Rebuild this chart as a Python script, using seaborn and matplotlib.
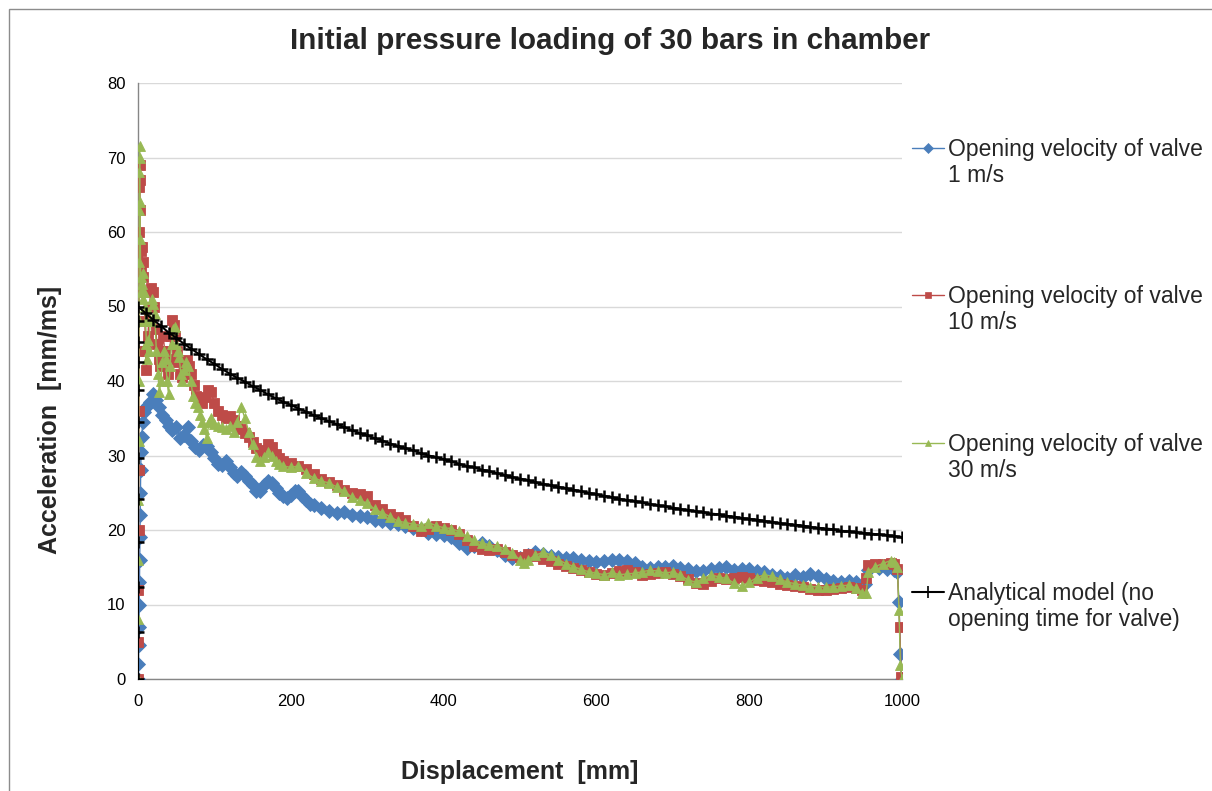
import numpy as np
import matplotlib
matplotlib.use("Agg")
import matplotlib.pyplot as plt
from matplotlib.lines import Line2D
from matplotlib.patches import Rectangle
import seaborn as sns

# Data (displacement in mm, acceleration in mm/ms)

# Opening velocity of valve 1 m/s
x_1ms = [0, 0.5, 1, 1.3, 1.6, 1.9, 2.2, 2.5, 2.8, 3.1, 3.5, 4, 5, 6, 8, 10, 13, 16, 20, 24,
         28, 32, 36, 40, 45, 50, 55, 60, 65, 70, 75, 80, 85, 90, 95, 100, 105, 110, 115, 120,
         125, 130, 135, 140, 145, 150, 155, 160, 165, 170, 175, 180, 185, 190, 195, 200, 205, 210, 215, 220,
         225, 230, 240, 250, 260, 270, 280, 290, 300, 310, 320, 330, 340, 350, 360, 370, 380, 390, 400, 410,
         420, 430, 440, 450, 460, 470, 480, 490, 500, 510, 520, 530, 540, 550, 560, 570, 580, 590, 600, 610,
         620, 630, 640, 650, 660, 670, 680, 690, 700, 710, 720, 730, 740, 750, 760, 770, 780, 790, 800, 810,
         820, 830, 840, 850, 860, 870, 880, 890, 900, 910, 920, 930, 940, 948, 952, 955, 960, 970, 980, 990,
         994, 996, 998, 1000]
y_1ms = [0, 2, 4.5, 7, 10, 13, 16, 19, 22, 25, 28, 30.5, 32.5, 34.5, 35.8, 36.5, 36.8, 37.2, 38.3, 37.5,
         36.5, 35.5, 34.8, 34, 33.4, 33.8, 32.4, 32.8, 33.8, 32, 31.2, 30.8, 31.4, 31.3, 30.5, 29.6, 28.9, 28.7, 29.2, 28.5,
         27.6, 27.2, 27.8, 27.3, 26.6, 26.0, 25.3, 25.2, 26.1, 26.6, 26.3, 25.6, 25.0, 24.5, 24.3, 24.7, 25.3, 25.2, 24.6, 24.0,
         23.5, 23.3, 23.0, 22.6, 22.3, 22.4, 22.0, 21.9, 21.8, 21.4, 21.2, 21.0, 20.8, 20.6, 20.3, 20.1, 19.6, 19.4, 19.3, 19.1,
         18.3, 17.6, 17.8, 18.3, 17.8, 17.3, 16.6, 16.2, 16.3, 16.6, 17.0, 16.8, 16.5, 16.4, 16.3, 16.2, 16.0, 15.9, 15.7, 15.8,
         16.0, 16.0, 15.9, 15.6, 15.1, 14.9, 15.0, 15.0, 15.2, 14.9, 14.8, 14.5, 14.5, 14.7, 14.9, 15.0, 14.6, 14.8, 14.8, 14.5,
         14.3, 14.0, 13.8, 13.6, 13.9, 13.7, 14.1, 13.8, 13.4, 13.1, 13.0, 13.1, 13.0, 12.6, 12.8, 14.6, 15.0, 14.9, 14.7, 14.6,
         14.4, 10.4, 3.4, 0]

# Opening velocity of valve 10 m/s
x_10ms = [0, 0.3, 0.5, 0.7, 0.9, 1.1, 1.3, 1.5, 1.7, 1.9, 2.1, 2.4, 2.7, 3, 3.5, 4, 5, 6, 7, 8,
          9, 10, 11, 13, 15, 17, 19, 21, 23, 25, 27, 29, 31, 33, 35, 37, 39, 41, 43, 45,
          47, 49, 51, 53, 55, 58, 61, 64, 67, 70, 73, 76, 80, 84, 88, 92, 96, 100, 105, 110,
          115, 120, 125, 130, 135, 140, 145, 150, 155, 160, 165, 170, 175, 180, 185, 190, 200, 210, 220, 230,
          240, 250, 260, 270, 280, 290, 300, 310, 320, 330, 340, 350, 360, 370, 380, 390, 400, 410, 420, 430,
          440, 450, 460, 470, 480, 490, 500, 510, 520, 530, 540, 550, 560, 570, 580, 590, 600, 610, 620, 630,
          640, 650, 660, 670, 680, 690, 700, 710, 720, 730, 740, 750, 760, 770, 780, 790, 800, 810, 820, 830,
          840, 850, 860, 870, 880, 890, 900, 910, 920, 930, 940, 948, 953, 956, 965, 975, 985, 990, 994, 997,
          999]
y_10ms = [0, 5, 12, 20, 28, 36, 44, 52, 60, 66, 69, 67, 63, 58, 55, 57.5, 58, 56, 54, 52,
          48, 44, 41.5, 46, 50, 52.5, 52, 50, 47, 45, 43, 42, 44, 46, 44, 42, 41, 43, 46, 48.2,
          47.5, 46, 44, 42.5, 41, 40.5, 41.5, 42.8, 42, 41, 39.5, 38, 37.5, 37, 37.8, 38.8, 38.5, 37, 36, 35.5,
          35, 35.3, 34.8, 34, 33.5, 33, 32.5, 31.8, 31, 30.5, 30.8, 31.5, 31.2, 30.2, 29.6, 29.2, 29.0, 28.6, 28.2, 27.5,
          26.9, 26.5, 26.0, 25.4, 25.0, 24.8, 24.6, 23.4, 22.8, 22.2, 21.8, 21.3, 20.6, 19.8, 20.2, 20.5, 20.3, 20.0, 19.4, 18.6,
          17.8, 17.5, 17.3, 17.4, 17.0, 16.6, 16.4, 16.8, 16.5, 16.1, 15.8, 15.5, 15.2, 14.9, 14.6, 14.3, 14.1, 14.0, 14.2, 14.5,
          14.6, 14.3, 14.0, 14.1, 14.2, 14.3, 14.1, 13.8, 13.4, 12.9, 12.8, 13.2, 13.5, 13.4, 13.6, 13.7, 13.5, 13.3, 13.2, 13.0,
          12.8, 12.6, 12.5, 12.3, 12.1, 11.9, 12.0, 12.1, 12.2, 12.3, 12.2, 12.0, 13.5, 15.3, 15.4, 15.5, 15.6, 15.5, 14.8, 7.0,
          0.3]

# Opening velocity of valve 30 m/s
x_30ms = [0, 0.2, 0.4, 0.6, 0.8, 1, 1.2, 1.4, 1.6, 1.8, 2, 2.3, 2.6, 3, 3.5, 4, 5, 6, 7, 8,
          9, 10, 11, 12, 13, 14, 16, 18, 20, 22, 24, 26, 28, 30, 32, 34, 36, 38, 40, 42,
          44, 46, 48, 50, 52, 54, 56, 58, 60, 63, 66, 69, 72, 75, 78, 81, 84, 87, 90, 93,
          96, 100, 105, 110, 115, 120, 125, 130, 135, 140, 145, 150, 155, 160, 165, 170, 175, 180, 185, 190,
          200, 210, 220, 230, 240, 250, 260, 270, 280, 290, 300, 310, 320, 330, 340, 350, 360, 370, 380, 390,
          400, 410, 420, 430, 440, 450, 460, 470, 480, 490, 500, 505, 510, 520, 530, 540, 550, 560, 570, 580,
          590, 600, 610, 620, 630, 640, 650, 660, 670, 680, 690, 700, 710, 720, 730, 740, 750, 760, 770, 780,
          790, 800, 810, 820, 830, 840, 850, 860, 870, 880, 890, 900, 910, 920, 930, 940, 948, 953, 956, 965,
          975, 985, 990, 994, 996, 998, 1000]
y_30ms = [0, 8, 16, 24, 32, 40, 48, 56, 63, 68, 71.5, 70, 64, 59, 54, 52, 53, 51, 54.5, 52,
          50, 48, 45, 43, 45.5, 44, 48, 51, 50.3, 49, 44, 41, 38.5, 40, 42.5, 44, 43, 40, 38.2, 42,
          45, 47, 47.3, 45, 44, 43.2, 41, 40, 41.5, 42.5, 42, 40, 38, 37, 36.5, 35.5, 34.5, 33.5, 32.3, 34.5,
          35.0, 34.2, 34.0, 33.8, 33.5, 34.0, 33.2, 34.5, 36.5, 35.0, 33.2, 31.5, 29.8, 29.3, 29.8, 30.5, 30.0, 29.2, 28.8, 28.6,
          28.4, 28.6, 27.6, 27.0, 26.6, 26.3, 25.8, 25.2, 24.4, 24.0, 23.6, 22.8, 22.3, 21.8, 21.2, 21.0, 20.8, 20.6, 21.0, 20.6,
          20.3, 20.2, 19.8, 19.2, 18.6, 18.3, 18.0, 17.8, 17.5, 16.9, 16.0, 15.6, 16.0, 16.6, 17.0, 16.7, 16.0, 15.5, 15.1, 14.7,
          14.4, 14.2, 14.0, 14.3, 14.0, 14.1, 14.2, 14.4, 14.6, 14.5, 14.2, 14.4, 13.9, 13.3, 13.0, 13.5, 14.0, 13.7, 13.5, 12.9,
          12.5, 13.0, 13.6, 14.0, 13.8, 13.4, 13.0, 12.8, 12.6, 12.4, 12.4, 12.3, 12.4, 12.5, 12.6, 12.2, 11.6, 11.5, 14.4, 15.1,
          15.5, 15.9, 15.7, 15.0, 9.3, 1.9, 0]

# Analytical model (no opening time for valve): vertical rise at x = 0, then decay every 10 mm
x_rise = [0, 0, 0, 0, 0, 0, 0, 0, 0, 0, 0]
y_rise = [0, 6.3, 12.4, 18.4, 24.2, 29.7, 34.5, 38.8, 42.6, 45.3, 48.0]
x_decay = list(np.arange(0, 1001, 10))
y_decay = [50.0, 49.1, 48.2, 47.4, 46.5, 45.8, 45.0, 44.3, 43.6, 42.9,
           42.3, 41.6, 41.0, 40.4, 39.9, 39.3, 38.8, 38.2, 37.7, 37.2,
           36.8, 36.3, 35.9, 35.4, 35.0, 34.6, 34.2, 33.8, 33.4, 33.0,
           32.7, 32.3, 32.0, 31.6, 31.3, 31.0, 30.7, 30.3, 30.0, 29.8,
           29.5, 29.2, 28.9, 28.6, 28.4, 28.1, 27.9, 27.6, 27.4, 27.1,
           26.9, 26.7, 26.4, 26.2, 26.0, 25.8, 25.6, 25.4, 25.2, 25.0,
           24.8, 24.6, 24.4, 24.2, 24.0, 23.9, 23.7, 23.5, 23.3, 23.2,
           23.0, 22.8, 22.7, 22.5, 22.4, 22.2, 22.1, 21.9, 21.8, 21.6,
           21.5, 21.4, 21.2, 21.1, 20.9, 20.8, 20.7, 20.6, 20.4, 20.3,
           20.2, 20.1, 19.9, 19.8, 19.7, 19.6, 19.5, 19.4, 19.3, 19.2,
           19.0]
x_model = x_rise + x_decay
y_model = y_rise + y_decay

labels = ["Opening velocity of valve\n1 m/s",
          "Opening velocity of valve\n10 m/s",
          "Opening velocity of valve\n30 m/s",
          "Analytical model (no\nopening time for valve)"]
colors = ["#4a7ebb", "#be4b48", "#98b954", "black"]
markers = ["D", "s", "^", "+"]
marker_sizes = [7.5, 6.5, 7.5, 8]

sns.set_style("white")
plt.rcParams['font.family'] = ['Liberation Sans', 'DejaVu Sans']

W, H = 1212, 791
fig = plt.figure(figsize=(W / 100, H / 100), dpi=100)
ax = fig.add_axes([138 / W, 1 - 679 / H, 764 / W, 596 / H])

series = [(x_1ms, y_1ms), (x_10ms, y_10ms), (x_30ms, y_30ms)]
for (xs, ys), c, m, ms in zip(series, colors[:3], markers[:3], marker_sizes[:3]):
    sns.lineplot(x=xs, y=ys, ax=ax, color=c, marker=m, markersize=ms,
                 markeredgecolor=c, markeredgewidth=0.6,
                 linewidth=1, sort=False, estimator=None, zorder=3)
sns.lineplot(x=x_model, y=y_model, ax=ax, color="black", marker="+", markersize=marker_sizes[3],
             markeredgecolor="black", markeredgewidth=1.8, linewidth=1.5,
             sort=False, estimator=None, zorder=4)

ax.set_xlim(0, 1000)
ax.set_ylim(0, 80)
ax.set_xticks(np.arange(0, 1001, 200))
ax.set_yticks(np.arange(0, 81, 10))
ax.yaxis.grid(True, color="#d9d9d9", linewidth=1)
ax.xaxis.grid(False)
ax.set_axisbelow(True)
for s in ["top", "right"]:
    ax.spines[s].set_visible(False)
for s in ["left", "bottom"]:
    ax.spines[s].set_color("#868686")
    ax.spines[s].set_linewidth(1)
ax.tick_params(axis="both", direction="out", length=5, width=1, color="#868686",
               labelsize=12, labelcolor="black", pad=4)
ax.tick_params(axis="x", pad=6)

ax.set_xlabel("Displacement  [mm]", fontsize=18, fontweight="bold")
ax.set_ylabel("Acceleration  [mm/ms]", fontsize=18, fontweight="bold")
ax.xaxis.set_label_coords(0.5, -0.136)
ax.yaxis.set_label_coords(-0.0995, 0.435)

fig.text(0.503, 1 - 41 / H, "Initial pressure loading of 30 bars in chamber",
         ha="center", va="center", fontsize=21.3, fontweight="bold")

# legend drawn in figure coordinates, handle aligned with first text line (Excel style)
handle_y = [148, 295, 443, 592]
for lab, c, m, hy in zip(labels, colors, markers, handle_y):
    yf = 1 - hy / H
    lw = 1.5 if m == "+" else 1
    fig.add_artist(Line2D([912 / W, 944 / W], [yf, yf], color=c, lw=lw, transform=fig.transFigure))
    fig.add_artist(Line2D([928 / W], [yf], color=c, marker=m, markersize=5 if m != "+" else 8,
                          markeredgecolor=c, markeredgewidth=0.5 if m != "+" else 1.2,
                          transform=fig.transFigure))
    fig.text(948 / W, 1 - (hy - 10) / H, lab, ha="left", va="top", fontsize=16.5, linespacing=1.16)

# chart-area frame
fig.add_artist(Rectangle((9 / W, -0.05), 1.1, 1 - 9 / H + 0.05, fill=False,
                         edgecolor="#8c8c8c", lw=1, transform=fig.transFigure))

fig.savefig("out.png", dpi=100)
